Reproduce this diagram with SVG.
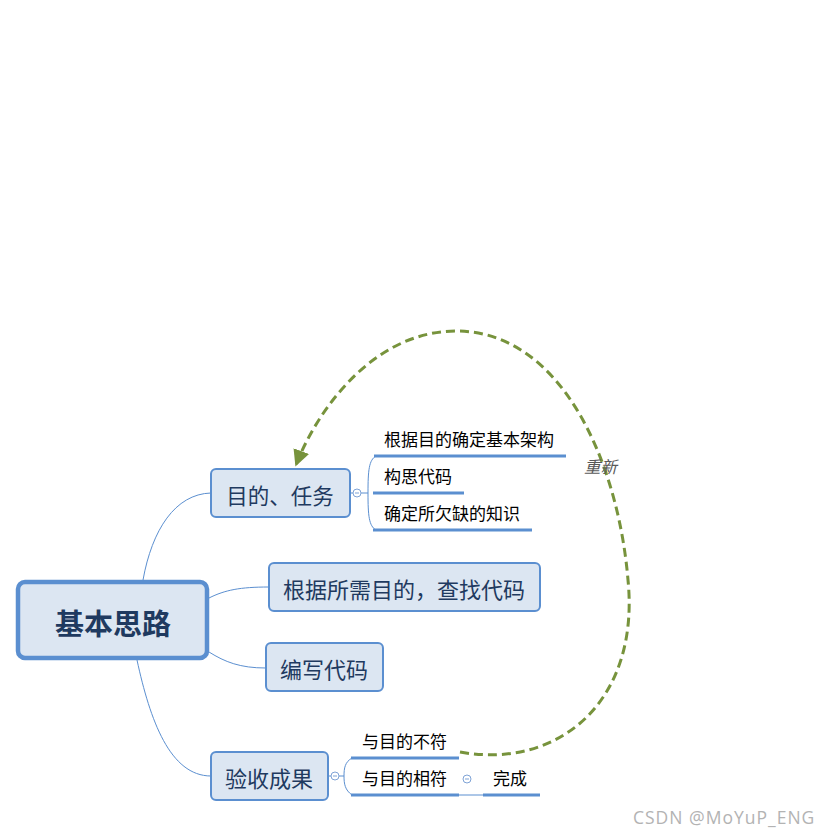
<svg xmlns="http://www.w3.org/2000/svg" width="831" height="838" viewBox="0 0 831 838">
<style>
.box{fill:#DCE6F2;stroke:#5B8FD0;stroke-width:2}
.main{fill:#DCE6F2;stroke:#5B8FD0;stroke-width:4.5}
.t{font-family:"Noto Sans CJK SC","Microsoft YaHei",sans-serif;fill:#1F3A60;text-anchor:middle;dominant-baseline:central}
.s{font-family:"Noto Sans CJK SC","Microsoft YaHei",sans-serif;fill:#000;font-size:17px}
.ul{stroke:#5B8FD0;stroke-width:3;fill:none}
.ln{stroke:#5B8FD0;stroke-width:1;fill:none}
.cc{fill:#fff;stroke:#7FA3D6;stroke-width:1}
</style>
<defs>
<marker id="ah" viewBox="0 0 10 10" refX="9" refY="5" markerWidth="5.5" markerHeight="5.5" orient="auto" markerUnits="strokeWidth">
<path d="M0,0 L10,5 L0,10 z" fill="#77933C"/>
</marker>
</defs>
<rect width="831" height="838" fill="#fff"/>
<g id="connectors">
<path class="ln" d="M143,580 C152,530 175,494 211,493"/>
<path class="ln" d="M209,598 C225,590 240,587 269,587"/>
<path class="ln" d="M209,652 C225,662 240,668 266,668"/>
<path class="ln" d="M137,660 C150,720 170,776 211,776"/>
<path class="ln" d="M350,493 H353"/>
<path class="ln" d="M361,493 H368 M376,456 C369,460 368,470 368,493 C368,516 369,526 376,530"/>
<path class="ln" d="M328,776 H331"/>
<path class="ln" d="M339,776 H344 M352,758 C345,762 344,768 344,776 C344,784 345,790 352,795"/>
<path class="ln" d="M459,795 H483"/>
<path d="M460,752 C560,770 640,700 628,580 C618,460 560,330 455,331 C370,332 315,415 296,465" fill="none" stroke="#77933C" stroke-width="3" stroke-dasharray="9,5" marker-end="url(#ah)"/>
<text x="584" y="473" font-family="'Noto Sans CJK SC',sans-serif" font-size="16.5" font-style="italic" fill="#595959">重新</text>
</g>
<g id="n-root">
<rect class="main" x="18" y="582" width="189" height="76" rx="7"/>
<text class="t" x="113" y="622" font-size="29" font-weight="bold" fill="#2E5385">基本思路</text>
</g>
<g id="n-goal">
<rect class="box" x="211" y="469" width="139" height="48" rx="5"/>
<text class="t" x="280" y="494" font-size="21.5">目的、任务</text>
<circle class="cc" cx="357" cy="493" r="4"/>
<path d="M355,493 H359" stroke="#7FA3D6" stroke-width="1"/>
</g>
<g id="n-goal-1">
<path class="ul" d="M374,456 H566"/>
<text class="s" x="384" y="446">根据目的确定基本架构</text>
</g>
<g id="n-goal-2">
<path class="ul" d="M373,493 H464"/>
<text class="s" x="384" y="483">构思代码</text>
</g>
<g id="n-goal-3">
<path class="ul" d="M373,530 H532"/>
<text class="s" x="384" y="520">确定所欠缺的知识</text>
</g>
<g id="n-search">
<rect class="box" x="269" y="563" width="271" height="48" rx="5"/>
<text class="t" x="404" y="588" font-size="22">根据所需目的，查找代码</text>
</g>
<g id="n-write">
<rect class="box" x="266" y="643" width="117" height="48" rx="5"/>
<text class="t" x="324" y="668" font-size="22">编写代码</text>
</g>
<g id="n-check">
<rect class="box" x="211" y="752" width="117" height="48" rx="5"/>
<text class="t" x="269" y="777" font-size="22">验收成果</text>
<circle class="cc" cx="335" cy="776" r="4"/>
<path d="M333,776 H337" stroke="#7FA3D6" stroke-width="1"/>
</g>
<g id="n-check-1">
<path class="ul" d="M351,758 H459"/>
<text class="s" x="362" y="748">与目的不符</text>
</g>
<g id="n-check-2">
<path class="ul" d="M351,795 H459"/>
<text class="s" x="362" y="785">与目的相符</text>
<circle class="cc" cx="467" cy="779" r="4"/>
<path d="M465,779 H469" stroke="#7FA3D6" stroke-width="1"/>
</g>
<g id="n-done">
<path class="ul" d="M483,795 H540"/>
<text class="s" x="493" y="785">完成</text>
</g>
<text x="633" y="824" font-family="'Open Sans','Noto Sans',sans-serif" font-size="17.5" letter-spacing="1" fill="#B3B3B3">CSDN @MoYuP_ENG</text>
</svg>
